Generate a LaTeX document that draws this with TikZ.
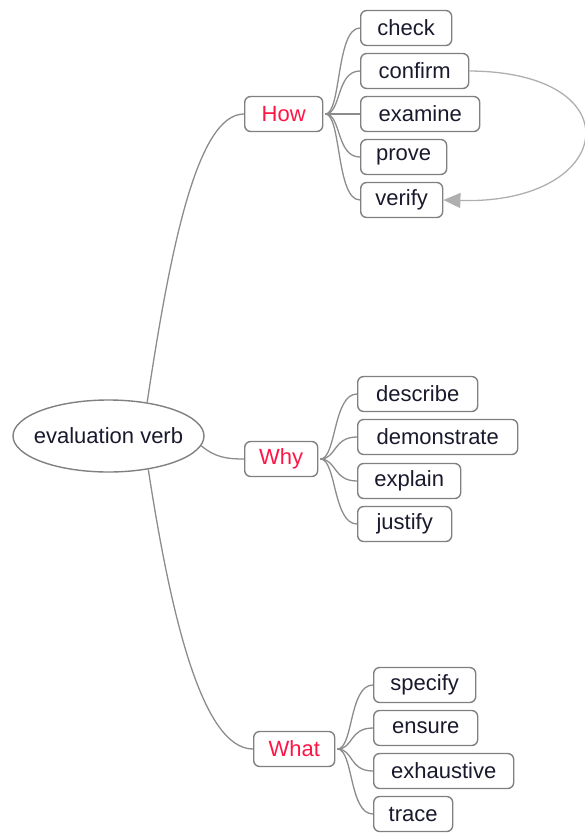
\documentclass[tikz,border=0pt]{standalone}
\usepackage{fontspec}
\setmainfont{Liberation Sans}
\usetikzlibrary{shapes.geometric,arrows.meta}
\definecolor{edgegray}{RGB}{140,140,140}
\definecolor{boxgray}{RGB}{128,128,128}
\definecolor{arrowgray}{RGB}{175,175,175}
\definecolor{headred}{RGB}{255,20,70}
\definecolor{wordink}{RGB}{25,25,45}
\begin{document}
\begin{tikzpicture}[x=1pt,y=-1pt,
  every node/.style={font=\fontsize{22}{26}\selectfont, inner sep=0pt},
  root/.style={ellipse, draw=boxgray, line width=1.4pt, text=wordink,
    inner xsep=-12pt, inner ysep=0pt,
    minimum width=191pt, minimum height=72pt},
  topic/.style={rectangle, rounded corners=6pt, draw=boxgray, line width=1.4pt,
    anchor=west, minimum height=35pt, text=headred},
  leaf/.style={rectangle, rounded corners=6pt, draw=boxgray, line width=1.4pt,
    anchor=west, minimum height=35pt, text=wordink},
  branch/.style={draw=edgegray, line width=1.3pt},
  loopback/.style={draw=arrowgray, line width=1.3pt,
    -{Triangle[length=17pt,width=15pt]}}
]
\useasboundingbox (0,0) rectangle (584,833);

% central topic
\node[root] (ev) at (108.5,436) {evaluation verb};

% first level
\node[topic, minimum width=78pt] (how)  at (244,114) {How};
\node[topic, minimum width=73pt] (why)  at (244,459) {Why};
\node[topic, minimum width=81pt] (what) at (253,749) {What};

% How branch
\node[leaf, minimum width=91pt]  (check)   at (360,28)  {check};
\node[leaf, minimum width=108pt] (confirm) at (360,71)  {confirm};
\node[leaf, minimum width=119pt] (examine) at (360,114) {examine};
\node[leaf, minimum width=86pt]  (prove)   at (360,157) {prove};
\node[leaf, minimum width=82pt]  (verify)  at (360,200) {verify};

% Why branch
\node[leaf, minimum width=120pt] (describe)    at (357,394) {describe};
\node[leaf, minimum width=160pt] (demonstrate) at (357,437) {demonstrate};
\node[leaf, minimum width=103pt] (explain)     at (357,481) {explain};
\node[leaf, minimum width=94pt]  (justify)     at (357,524) {justify};

% What branch
\node[leaf, minimum width=102pt] (specify)    at (373,685) {specify};
\node[leaf, minimum width=104pt] (ensure)     at (373,728) {ensure};
\node[leaf, minimum width=140pt] (exhaustive) at (373,771) {exhaustive};
\node[leaf, minimum width=79pt]  (trace)      at (373,814) {trace};

% root to topics
\draw[branch] (ev.41) .. controls +(23,-153) and +(-47,0) .. (how.west);
\draw[branch] (ev.-6) .. controls +(14,12) and +(-16,0) .. (why.west);
\draw[branch] (ev.-40) .. controls +(23,150) and +(-50,0) .. (what.west);

% topics to leaves
\foreach \p/\c in {how/check, how/confirm, how/examine, how/prove, how/verify,
                   why/describe, why/demonstrate, why/explain, why/justify,
                   what/specify, what/ensure, what/exhaustive, what/trace}
  \draw[branch] ([xshift=2pt]\p.east) .. controls +(16,0) and +(-24,0) .. (\c.west);

% relation from confirm back to verify
\draw[loopback] (confirm.east) .. controls +(167,1) and +(172,5) .. (verify.east);
\end{tikzpicture}
\end{document}
